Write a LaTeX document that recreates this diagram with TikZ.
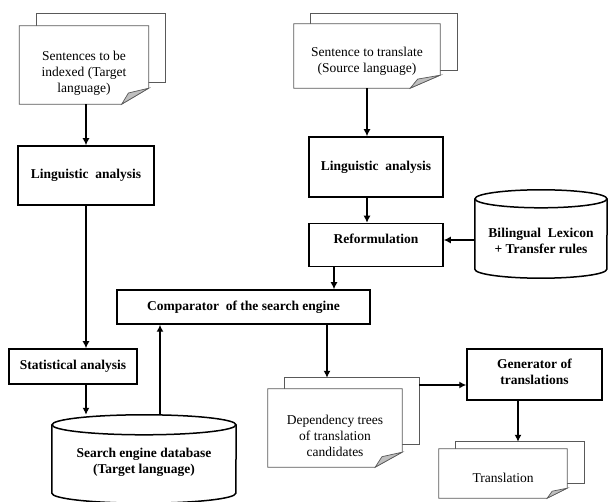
\documentclass[tikz,border=0pt]{standalone}
\usepackage{fontspec}
\setmainfont{Liberation Serif}
\usetikzlibrary{arrows.meta,calc,positioning,backgrounds}
\tikzset{every picture/.style={
  >={Latex[length=7pt,width=7pt]}   % Filled triangle arrows.
  }
}

\begin{document}
\begin{tikzpicture}[
    x=1pt,y=-1pt,
    font=\fontsize{13.5}{16}\selectfont,
    proc/.style={
      rectangle,
      draw,
      line width=1.5pt,
      align=center,
      inner sep=2pt,
      font=\fontsize{13.5}{16}\selectfont\bfseries
    },
    docpage/.style={
      rectangle,
      align=center,
      inner sep=0pt
    },
    store/.style={
      rectangle,
      align=center,
      inner sep=0pt,
      font=\fontsize{13.5}{16}\selectfont\bfseries
    },
    page/.style={
      draw=black!65,
      line width=0.7pt,
      fill=white
    },
    drum/.style={
      draw,
      line width=1.5pt
    },
    flow/.style={->,line width=1.3pt}]
    \useasboundingbox (0,0) rectangle (608,502);

    % Target side: indexing of the sentences.
    \node[docpage,minimum width=129pt,minimum height=78pt,text height=57pt]
      (src1) at (84,65) {Sentences to be\\indexed (Target\\language)};
    \node[proc,minimum width=136pt,minimum height=59pt] (la1) at (86,175.5)
      {Linguistic~ analysis};
    \node[proc,minimum width=128pt,minimum height=35pt] (stat) at (73,366.5)
      {Statistical analysis};
    \node[store,minimum width=184pt,minimum height=88pt,text height=32pt] (db)
      at (144,459) {Search engine database\\(Target language)};

    % Source side: the sentence to translate.
    \node[docpage,minimum width=146pt,minimum height=64pt,text height=36pt]
      (src2) at (367,56) {Sentence to translate\\(Source language)};
    \node[proc,minimum width=134pt,minimum height=60pt] (la2) at (376,167)
      {Linguistic~ analysis};
    \node[proc,minimum width=134pt,minimum height=43pt,text depth=13pt,
      below=25pt of la2] (reform) {Reformulation};
    \node[store,minimum width=132pt,minimum height=88pt,text height=39pt] (lex)
      at (541,234) {Bilingual~ Lexicon\\+ Transfer rules};

    % Search and generation.
    \node[proc,minimum width=253pt,minimum height=34pt] (comp) at (243.5,307)
      {Comparator~ of the search engine};
    \node[docpage,minimum width=134pt,minimum height=78pt,text height=57pt]
      (dep) at (335,428) {Dependency trees\\of translation\\candidates};
    \node[proc,minimum width=135pt,minimum height=51pt,text depth=6pt] (gen)
      at (534.5,374.5) {Generator of\\translations};
    \node[docpage,minimum width=128pt,minimum height=49pt,text height=18pt]
      (trans) at (503,473.5) {Translation};

    % Stacked pages and cylinders behind the texts.
    \begin{scope}[on background layer]
      \foreach \d/\t/\b/\ex/\ey in
        {src1/12/22/27/16,src2/10/18/30/13,dep/11/23/27/15,trans/7/15/20/10} {
        \draw[page] ($(\d.north west)+(17,-\t)$) rectangle
          ($(\d.south east)+(17,-\b)$);
        \draw[page] (\d.north west) -- (\d.north east)
          -- ($(\d.south east)+(0,-\ey)$) -- ($(\d.south east)+(-\ex,0)$)
          -- (\d.south west) -- cycle;
        \draw[page,fill=black!25] ($(\d.south east)+(-\ex,0)$)
          -- ($(\d.south east)+(-0.75*\ex,-0.7*\ey)$)
          -- ($(\d.south east)+(0,-\ey)$) -- cycle;
      }
      \foreach \c/\rx/\ry in {db/92/10,lex/66/9} {
        \draw[drum,fill=white] ($(\c.north west)+(0,\ry)$)
          -- ($(\c.south west)+(0,-\ry)$)
          arc[start angle=180,end angle=0,x radius=\rx,y radius=\ry]
          -- ($(\c.north east)+(0,\ry)$);
        \draw[drum] ($(\c.north)+(0,\ry)$) ellipse[x radius=\rx,y radius=\ry];
      }
    \end{scope}

    % Connectors.
    \coordinate (dbout) at ($(db.north)+(16,0)$);
    \coordinate (refout) at ($(reform.south)+(-42,0)$);
    \coordinate (lexout) at ($(lex.west)+(0,6)$);
    \coordinate (deptop) at ($(dep.north)+(-8,-11)$);
    \coordinate (depright) at ($(dep.east)+(17,-43)$);
    \coordinate (transtop) at ($(trans.north)+(15,-7)$);

    \draw[flow] (la1.north |- src1.south) -- (la1.north);
    \draw[flow] (la1.south) -- (la1.south |- stat.north);
    \draw[flow] (la1.south |- stat.south) -- (la1.south |- db.north);
    \draw[flow] (dbout) -- (dbout |- comp.south);
    \draw[flow] (src2.south) -- (src2.south |- la2.north);
    \draw[flow] (la2.south -| src2.south) -- (reform.north -| src2.south);
    \draw[flow] (lexout) -- (lexout -| reform.east);
    \draw[flow] (refout) -- (refout |- comp.north);
    \draw[flow] (deptop |- comp.south) -- (deptop);
    \draw[flow] (depright) -- (depright -| gen.west);
    \draw[flow] (transtop |- gen.south) -- (transtop);
  \end{tikzpicture}
\end{document}
